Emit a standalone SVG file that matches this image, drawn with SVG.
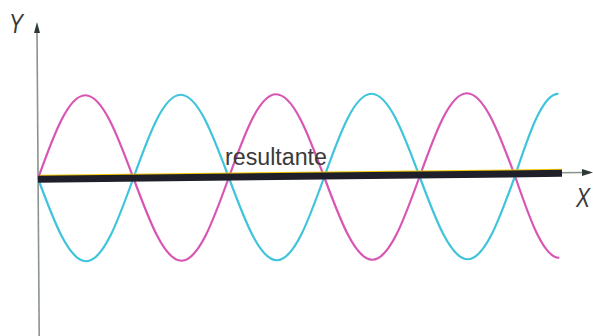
<svg xmlns="http://www.w3.org/2000/svg" width="593" height="336" viewBox="0 0 593 336">
  <defs>
    <style>
      .axis { stroke: #8a948a; stroke-width: 1.6; fill: none; }
      .wave { fill: none; stroke-width: 2.2; stroke-linecap: round; }
      .mag { stroke: #d955b4; }
      .cya { stroke: #3fc4dc; }
      .lbl { font-family: "Liberation Sans", Arial, sans-serif; fill: #3a3a3a; }
      .axlbl { font-style: italic; font-size: 27px; }
    </style>
  </defs>
  <rect width="593" height="336" fill="#ffffff"/>

  <g id="axes">
    <line class="axis" x1="39.2" y1="336" x2="37" y2="30"/>
    <polygon points="37,22 34,33 40,33" fill="#2e3a3a"/>
    <line class="axis" x1="38" y1="178" x2="584" y2="172.5"/>
    <polygon points="593,172.4 582,169 582,176" fill="#2e3a3a"/>
  </g>

  <g id="waves" transform="rotate(-0.3 38 178.5)">
    <path id="wave-magenta" class="wave mag" d="M38,178.5
      c15.56,-42.52 30.46,-83 47.7,-83
      c17.24,0 32.14,40.48 47.7,83
      c15.56,42.52 30.46,83 47.7,83
      c17.24,0 32.14,-40.48 47.7,-83
      c15.56,-42.52 30.46,-83 47.7,-83
      c17.24,0 32.14,40.48 47.7,83
      c15.56,42.52 30.46,83 47.7,83
      c17.24,0 32.14,-40.48 47.7,-83
      c15.56,-42.52 30.46,-83 47.7,-83
      c17.24,0 32.14,40.48 47.7,83
      c14,41.5 27.5,81 43,82"/>
    <path id="wave-cyan" class="wave cya" d="M38,178.5
      c15.56,42.52 30.46,83 47.7,83
      c17.24,0 32.14,-40.48 47.7,-83
      c15.56,-42.52 30.46,-83 47.7,-83
      c17.24,0 32.14,40.48 47.7,83
      c15.56,42.52 30.46,83 47.7,83
      c17.24,0 32.14,-40.48 47.7,-83
      c15.56,-42.52 30.46,-83 47.7,-83
      c17.24,0 32.14,40.48 47.7,83
      c15.56,42.52 30.46,83 47.7,83
      c17.24,0 32.14,-40.48 47.7,-83
      c14,-41.5 27.5,-81 43,-82"/>
  </g>

  <g id="resultante">
    <line x1="40" y1="175.6" x2="562" y2="169.6" stroke="#f2c800" stroke-width="1.6"/>
    <line x1="38" y1="179.3" x2="562" y2="173.3" stroke="#1f1f29" stroke-width="7"/>
    <text class="lbl" x="225" y="165" font-size="23" textLength="102" lengthAdjust="spacingAndGlyphs">resultante</text>
  </g>

  <g id="labels">
    <text class="lbl axlbl" x="9" y="33" textLength="14" lengthAdjust="spacingAndGlyphs">Y</text>
    <text class="lbl axlbl" x="576" y="207" textLength="14" lengthAdjust="spacingAndGlyphs">X</text>
  </g>
</svg>
